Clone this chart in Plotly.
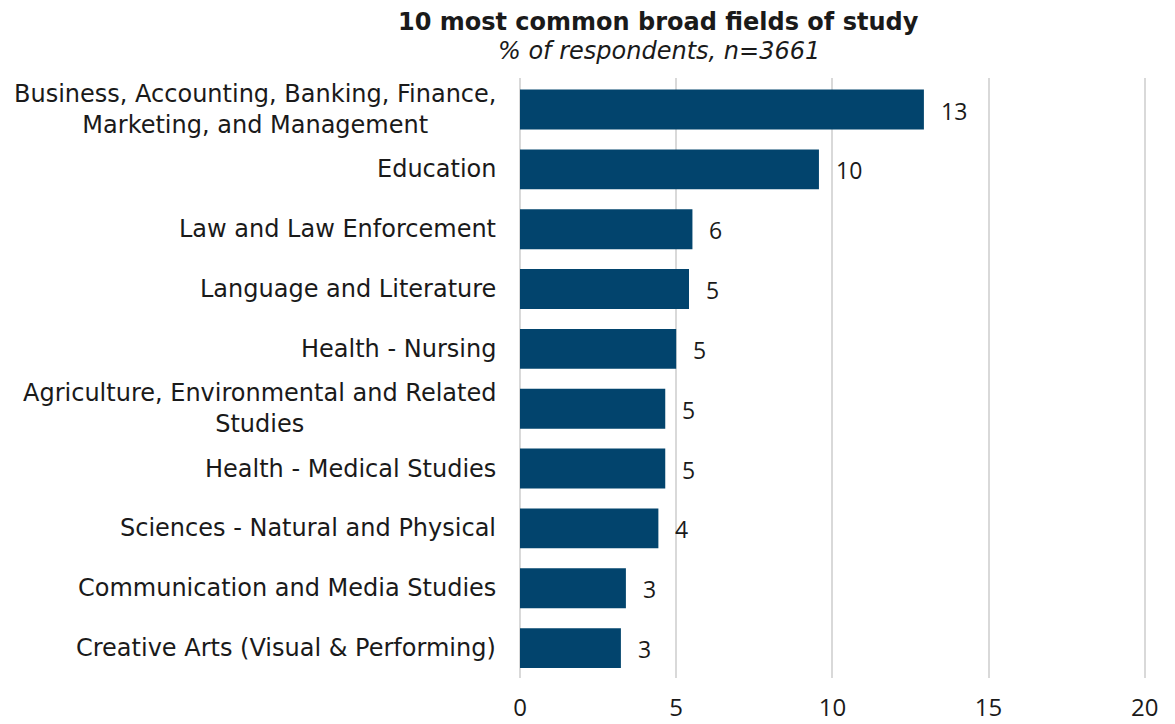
import plotly.graph_objects as go

# =========================
# DATA
# =========================

fields = [
    "Business, Accounting, Banking, Finance,<br>Marketing, and Management",
    "Education",
    "Law and Law Enforcement",
    "Language and Literature",
    "Health - Nursing",
    "Agriculture, Environmental and Related<br>Studies",
    "Health - Medical Studies",
    "Sciences - Natural and Physical",
    "Communication and Media Studies",
    "Creative Arts (Visual & Performing)",
]
shares = [12.93, 9.57, 5.52, 5.41, 5.00, 4.65, 4.65, 4.43, 3.39, 3.23]
x_ticks = [0, 5, 10, 15, 20]

title_text = "10 most common broad fields of study"
subtitle_text = "% of respondents, n=3661"

BAR_COLOR = "#02446d"
GRID_COLOR = "#d9d9d9"
TEXT_COLOR = "#1a1a1a"
LABEL_FONT = "DejaVu Sans"
NUM_FONT = "Open Sans"

# =========================
# FIGURE
# =========================

fig = go.Figure()

fig.add_trace(
    go.Bar(
        x=shares,
        y=fields,
        orientation="h",
        marker=dict(color=BAR_COLOR, line=dict(width=0)),
        hoverinfo="x+y",
        showlegend=False,
    )
)

# value labels next to the bars
for field, value in zip(fields, shares):
    fig.add_annotation(
        x=value,
        y=field,
        xref="x",
        yref="y",
        text=f"{round(value):d}",
        showarrow=False,
        xanchor="left",
        xshift=15,
        yshift=-1,
        font=dict(family=NUM_FONT, size=23, color=TEXT_COLOR),
    )

# category labels (centred multi-line text, as in the original)
for field in fields:
    fig.add_annotation(
        x=0,
        y=field,
        xref="paper",
        yref="y",
        text=field,
        showarrow=False,
        xanchor="right",
        align="center",
        xshift=-22,
        font=dict(family=LABEL_FONT, size=24, color=TEXT_COLOR),
    )

# title + subtitle
fig.add_annotation(
    x=(658.5 - 520) / 631,
    y=1,
    xref="paper",
    yref="paper",
    text=f"<b>{title_text}</b>",
    showarrow=False,
    xanchor="center",
    yanchor="middle",
    yshift=56,
    font=dict(family=LABEL_FONT, size=24, color=TEXT_COLOR),
)
fig.add_annotation(
    x=(658.5 - 520) / 631,
    y=1,
    xref="paper",
    yref="paper",
    text=f"<i>{subtitle_text}</i>",
    showarrow=False,
    xanchor="center",
    yanchor="middle",
    yshift=27,
    font=dict(family=LABEL_FONT, size=24, color=TEXT_COLOR),
)

# =========================
# AXES
# =========================

fig.update_xaxes(
    range=[0, 20.2],
    tickvals=x_ticks,
    ticktext=[str(t) for t in x_ticks],
    showgrid=True,
    gridcolor=GRID_COLOR,
    gridwidth=2,
    zeroline=True,
    zerolinecolor=GRID_COLOR,
    zerolinewidth=2,
    showline=False,
    ticks="",
    ticklabelstandoff=13,
    automargin=False,
    tickfont=dict(family=NUM_FONT, size=24, color=TEXT_COLOR),
)

fig.update_yaxes(
    autorange="reversed",
    showticklabels=False,
    showgrid=False,
    zeroline=False,
    showline=False,
    ticks="",
    automargin=False,
)

# =========================
# LAYOUT
# =========================

fig.update_layout(
    width=1175,
    height=724,
    bargap=1 / 3,
    plot_bgcolor="white",
    paper_bgcolor="white",
    margin=dict(l=520, r=24, t=78, b=46),
)

fig.write_html(
    "out.html",
    config={"displayModeBar": False},
    post_script="document.body.style.margin='0';",
)
